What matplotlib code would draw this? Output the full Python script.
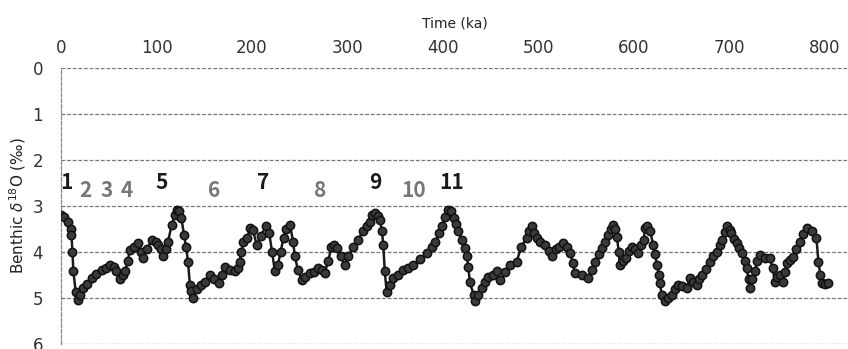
import matplotlib
matplotlib.use('Agg')
import matplotlib.pyplot as plt

# values (age in ka, benthic d18O in permil)
AGE_KA = [0, 3, 7.7, 10, 11, 12, 13, 15.4, 18, 20, 23, 27, 32, 37, 42.6, 47, 51, 55, 58, 62,
          65, 67, 70, 72, 76, 81, 84, 86, 90, 95, 99, 102, 105, 107, 110, 112, 116, 119, 122, 124,
          126, 129, 131, 133, 135, 136.5, 138.5, 142, 147, 151, 156, 160, 165, 169, 172, 177, 182, 185, 187, 189,
          191, 195, 198, 201, 205, 209, 215, 218, 221, 224, 227, 230, 233, 236, 240, 243, 245, 248, 252, 256,
          261, 265, 269, 273, 276, 280, 283, 286, 289, 293, 297, 301, 306, 311, 316, 320, 323.5, 326, 329, 332,
          334, 336, 337.5, 339, 341, 344, 348, 353, 358.5, 363, 369, 376, 383, 388, 392, 396, 399, 402, 405.5, 408,
          411, 414, 416, 420, 423, 425, 426.5, 428, 432, 433.5, 437, 440.5, 444, 447.5, 452, 456, 460, 465, 470, 477,
          482, 487.6, 490, 492.9, 495, 498, 502, 507, 511, 514, 518, 521, 526, 530, 533, 536, 538, 545, 552, 556,
          559, 563, 566, 570, 573, 576, 578, 580, 582, 584, 585, 588, 592, 595, 597.6, 601, 604.5, 607, 610, 611.5,
          614, 617, 620, 622, 624, 626, 627, 629, 632.5, 636, 639.5, 643, 646, 650, 655, 658.6, 662, 665.6, 668, 671,
          675, 679.6, 683, 686.6, 690, 692, 695, 697.8, 700, 702, 705, 707.5, 710, 712.8, 716, 718, 720, 721.5, 724, 726.7,
          729, 732, 737, 742, 745, 747.6, 750, 753, 756, 758, 759.9, 763, 766.8, 770, 773.8, 777, 780.8, 786, 791, 793,
          795, 796.5, 800, 803.5]
D18O = [3.2, 3.25, 3.35, 3.5, 3.64, 4.0, 4.43, 4.87, 5.05, 4.95, 4.8, 4.7, 4.58, 4.48, 4.4, 4.35, 4.29, 4.33, 4.43, 4.6,
        4.5, 4.43, 4.2, 3.96, 3.9, 3.81, 4.0, 4.14, 3.95, 3.75, 3.8, 3.86, 3.95, 4.1, 3.95, 3.78, 3.42, 3.2, 3.1, 3.12,
        3.27, 3.64, 3.9, 4.22, 4.72, 4.85, 5.0, 4.82, 4.72, 4.65, 4.5, 4.6, 4.68, 4.5, 4.33, 4.4, 4.43, 4.35, 4.22, 4.0,
        3.78, 3.7, 3.49, 3.53, 3.86, 3.65, 3.45, 3.6, 4.0, 4.43, 4.3, 4.0, 3.7, 3.5, 3.42, 3.8, 4.1, 4.4, 4.61, 4.55,
        4.47, 4.45, 4.36, 4.4, 4.46, 4.2, 3.89, 3.85, 3.92, 4.1, 4.29, 4.1, 3.89, 3.75, 3.56, 3.45, 3.35, 3.2, 3.16, 3.22,
        3.31, 3.55, 3.86, 4.43, 4.87, 4.72, 4.58, 4.5, 4.4, 4.35, 4.29, 4.15, 4.03, 3.9, 3.78, 3.6, 3.45, 3.25, 3.1, 3.12,
        3.27, 3.4, 3.56, 3.75, 3.92, 4.1, 4.33, 4.65, 4.94, 5.08, 4.95, 4.79, 4.65, 4.54, 4.5, 4.43, 4.61, 4.45, 4.29, 4.22,
        3.89, 3.7, 3.55, 3.45, 3.6, 3.7, 3.78, 3.86, 3.98, 4.1, 3.95, 3.89, 3.82, 3.9, 4.03, 4.25, 4.47, 4.5, 4.57, 4.4,
        4.22, 4.05, 3.93, 3.78, 3.64, 3.5, 3.42, 3.5, 3.67, 4.0, 4.29, 4.2, 4.14, 3.98, 3.89, 3.95, 4.03, 3.85, 3.75, 3.49,
        3.45, 3.56, 3.85, 4.05, 4.29, 4.5, 4.68, 4.94, 5.08, 5.0, 4.94, 4.82, 4.72, 4.75, 4.79, 4.57, 4.65, 4.72, 4.6, 4.5,
        4.38, 4.22, 4.1, 4.0, 3.85, 3.75, 3.58, 3.45, 3.52, 3.6, 3.72, 3.82, 3.92, 4.03, 4.2, 4.36, 4.6, 4.79, 4.6, 4.43,
        4.2, 4.07, 4.14, 4.14, 4.35, 4.65, 4.55, 4.5, 4.65, 4.45, 4.25, 4.18, 4.11, 3.95, 3.78, 3.62, 3.49, 3.56, 3.71, 4.22,
        4.5, 4.68, 4.7, 4.68]

# marine isotope stage labels: (text, age, warm stage?)
MIS_LABELS = ['1', '2', '3', '4', '5', '6', '7', '8', '9', '10', '11']
MIS_AGES = [6, 26, 48, 69, 105, 160, 212, 271, 329, 369, 409]
MIS_WARM = [True, False, False, False, True, False, True, False, True, False, True]

X_TICKS = [0, 100, 200, 300, 400, 500, 600, 700, 800]
Y_TICKS = [0, 1, 2, 3, 4, 5, 6]

plt.rcParams['font.family'] = ['DejaVu Sans']

fig = plt.figure(figsize=(8.48, 3.49), dpi=100)
ax = fig.add_axes([0.0719, 0.0152, 0.9281, 0.7908])

ax.plot(AGE_KA, D18O, color='#1a1a1a', lw=1.8, marker='o', markersize=6,
        markerfacecolor='#3a3a3a', markeredgecolor='#111111', markeredgewidth=1.1, zorder=3)

for lab, age, warm in zip(MIS_LABELS, MIS_AGES, MIS_WARM):
    if warm:
        ax.text(age, 2.5, lab, ha='center', va='center', fontsize=15, fontweight='bold',
                color='#1a1a1a', family='Noto Sans CJK JP', zorder=4)
    else:
        ax.text(age, 2.67, lab, ha='center', va='center', fontsize=15, fontweight='bold',
                color='#777777', family='Noto Sans CJK JP', zorder=4)

ax.set_xlim(0, 824)
ax.set_ylim(6, 0)
ax.xaxis.tick_top()
ax.xaxis.set_label_position('top')
ax.set_xticks(X_TICKS)
ax.set_yticks(Y_TICKS)
ax.tick_params(axis='both', length=0, labelsize=12, colors='#333333')
ax.tick_params(axis='x', pad=8)
ax.tick_params(axis='y', pad=13)
ax.set_xlabel('Time (ka)', fontsize=10, labelpad=8, color='#222222')
ax.set_ylabel(r'Benthic $\delta^{18}$O (‰)', fontsize=11, labelpad=3, color='#222222')

ax.grid(axis='y', color='#777777', linestyle=(0, (3, 1.5)), linewidth=0.9)
for side in ['top', 'right', 'bottom']:
    ax.spines[side].set_visible(False)
ax.spines['left'].set_color('#888888')
ax.spines['left'].set_linestyle((0, (3, 1.5)))
ax.spines['left'].set_linewidth(0.9)

fig.savefig('out.png', dpi=100)
